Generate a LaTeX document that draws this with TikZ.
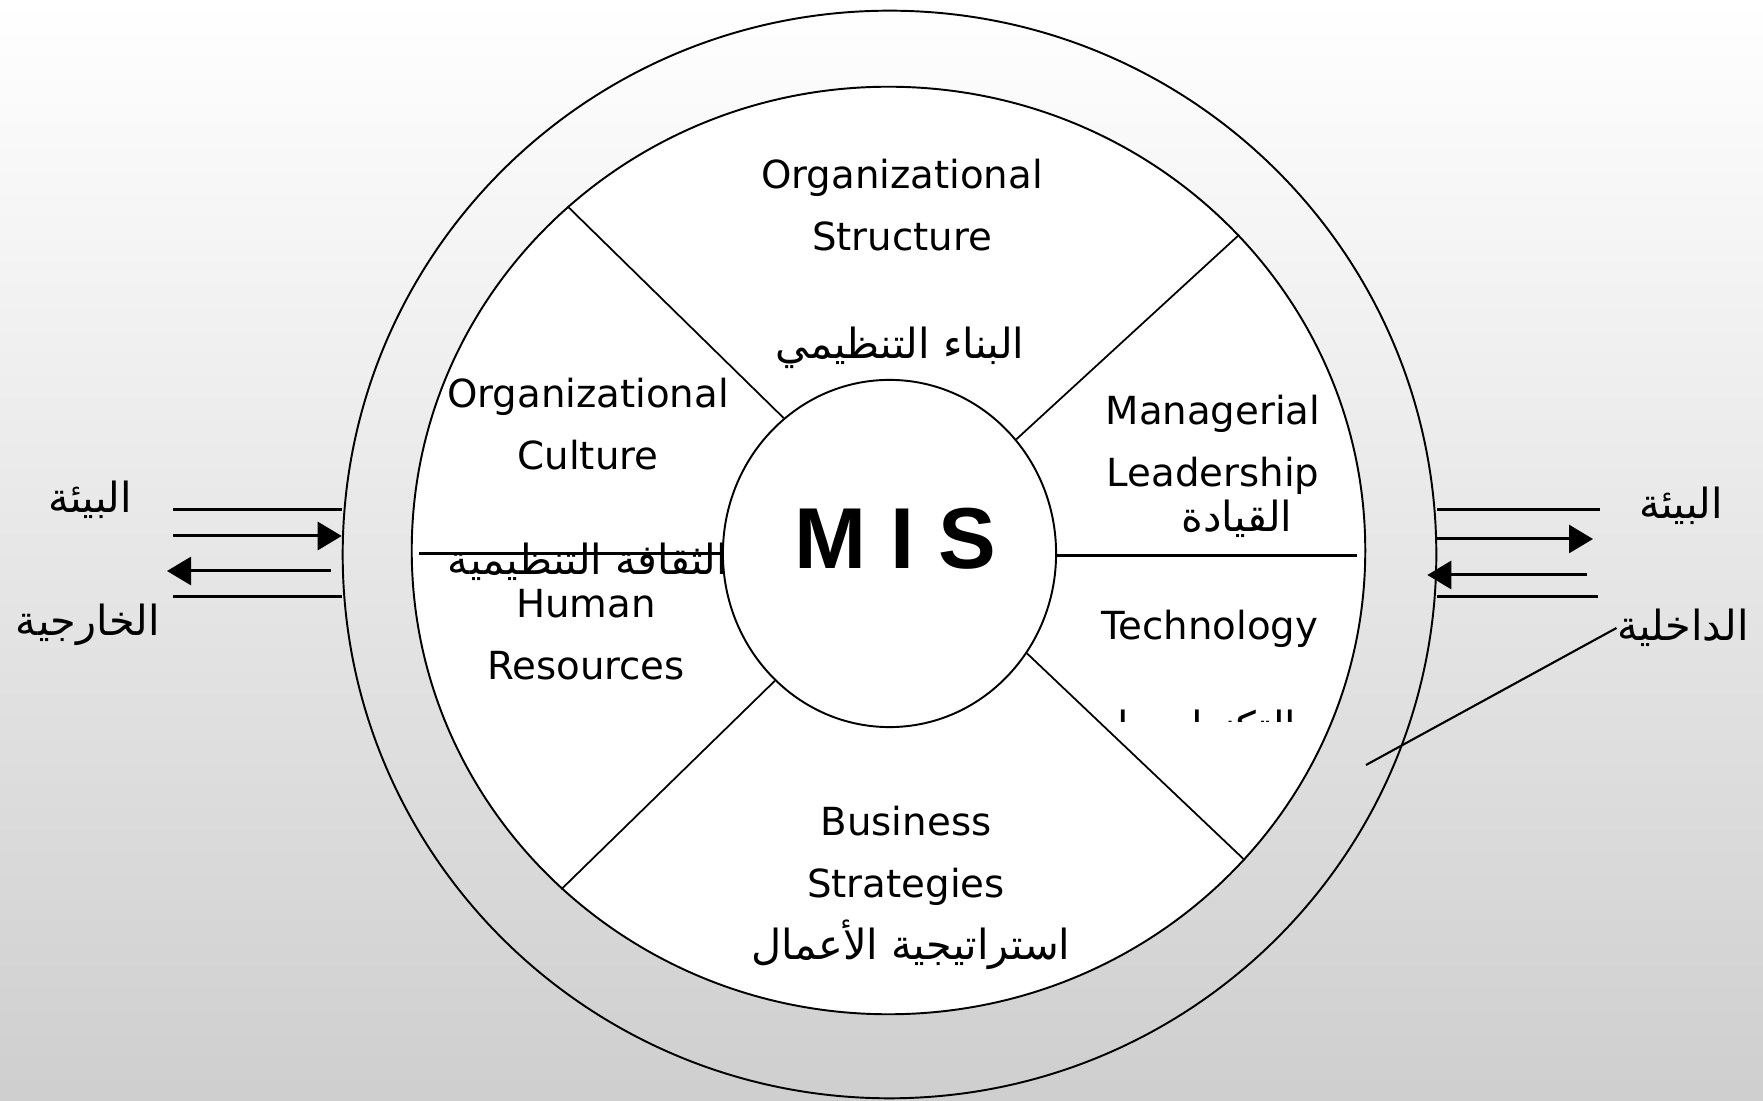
\documentclass[tikz,border=0pt]{standalone}
\usepackage{fontspec}
\setmainfont{DejaVu Sans}
\newfontfamily\arabicfont[Script=Arabic]{DejaVu Sans}
\newfontfamily\misfont{Liberation Sans}
\TeXXeTstate=1
\usetikzlibrary{shapes.geometric, arrows.meta}

\begin{document}
\begin{tikzpicture}[x=0.01cm,y=-0.01cm,
  rim/.style={ellipse, draw, line width=0.55pt, inner sep=0pt},
  eng/.style={align=center, inner sep=0pt, font=\fontsize{11}{17.6}\selectfont},
  arb/.style={inner sep=0pt, font=\arabicfont\fontsize{11.8}{15}\selectfont},
  flow/.style={line width=0.85pt},
  tip/.style={-{Triangle[length=0.24cm,width=0.28cm]}}]
\useasboundingbox (0,0) rectangle (1763,1101);
% --- background ---
\shade[top color=white, middle color=gray!8, bottom color=gray!38] (0,0) rectangle (1763,1101);

% --- rings ---
\node[rim, minimum width=10.93cm, minimum height=10.87cm] (ring) at (889.5,554.5) {};
\node[rim, fill=white, minimum width=9.53cm, minimum height=9.27cm] (disk) at (888.5,550.5) {};
\node[rim, minimum width=3.33cm, minimum height=3.47cm] (mis) at (889.5,553.5) {};
\node[inner sep=0pt, font=\misfont\bfseries\fontsize{24.6}{28}\selectfont] (mis label) at (895,539) {M I S};

% --- sectors ---
\foreach \a/\b in {128/133, 42/42, 228/226, 324/319}{
\draw[line width=0.5pt] (mis.\a) -- (disk.\b);
}
\draw[flow, shorten <=0.08cm] (mis.west -| disk.west) -- (mis.west);
\draw[flow, shorten >=0.09cm] ([yshift=-0.02cm]mis.east) -- ([yshift=-0.02cm]mis.east -| disk.east);

\node[eng] (struct) at (902,205) {Organizational\\Structure};
\node[arb] (struct ar) at (900,348) {\beginR البناء التنظيمي\endR};
\node[eng] (culture) at (588,424) {Organizational\\Culture};
\node[arb] (culture ar) at (588,562) {\beginR الثقافة التنظيمية\endR};
\node[eng] (human) at (586,635) {Human\\Resources};
\node[eng] (leader) at (1213,445) {Managerial\\Leadership};
\node[arb] (leader ar) at (1237,519) {\beginR القيادة\endR};
\node[eng] (techno) at (1210,629) {Technology};
\begin{scope}
\clip (1100,700) rectangle (1320,722);
\node[arb, anchor=base] (techno ar) at (1207,742) {\beginR التكنولوجيا\endR};
\end{scope}
\node[eng] (business) at (906,856) {Business\\Strategies};
\node[arb] (business ar) at (911,945) {\beginR استراتيجية الأعمال\endR};

% --- environment ---
\node[arb] (outer env) at (90,500) {\beginR البيئة\endR};
\node[arb] (outer kind) at (88,625) {\beginR الخارجية\endR};
\node[arb] (inner env) at (1681,506) {\beginR البيئة\endR};
\node[arb] (inner kind) at (1683,628) {\beginR الداخلية\endR};

\coordinate (l1) at (173,510);
\coordinate (l2) at (173,536);
\coordinate (l3) at (167,571);
\coordinate (l4) at (173,597);
\draw[flow] (l1) -- (l1 -| ring.west);
\draw[flow,tip] (l2) -- (l2 -| ring.west);
\draw[flow,tip,shorten <=0.11cm] (l3 -| ring.west) -- (l3);
\draw[flow] (l4) -- (l4 -| ring.west);

\coordinate (r1) at (1600,510);
\coordinate (r2) at (1593,539);
\coordinate (r3) at (1587,575);
\coordinate (r4) at (1598,597);
\draw[flow] (r1 -| ring.east) -- (r1);
\draw[flow,tip] (r2 -| ring.east) -- (r2);
\draw[flow,tip,shorten >=-0.1cm] (r3) -- (r3 -| ring.east);
\draw[flow] (r4 -| ring.east) -- (r4);

\coordinate (ringpt) at (1366,765);
\draw[line width=0.6pt] (ringpt) -- (inner kind.west);
\end{tikzpicture}
\end{document}
